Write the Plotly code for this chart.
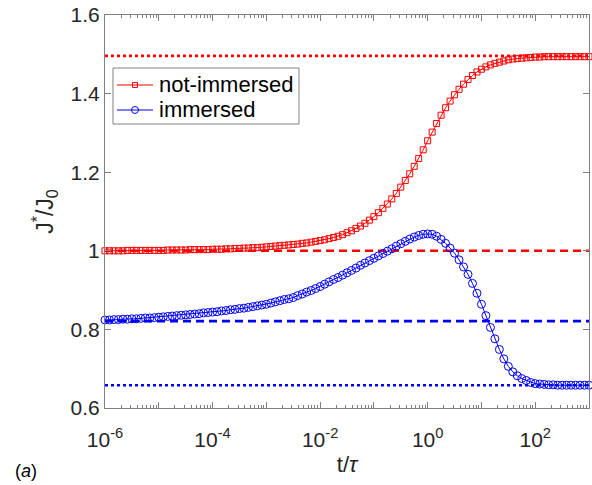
import numpy as np
import plotly.graph_objects as go

# sample times t/tau: 12 points per decade from 1e-6 to 1e3
log_t = -6.0 + np.arange(109) / 12.0
t = 10.0 ** log_t

j_not_immersed = [
    1.000, 1.000, 1.000, 1.000, 1.000, 1.001, 1.001, 1.001, 1.001, 1.001, 1.001, 1.001,
    1.001, 1.001, 1.002, 1.002, 1.002, 1.002, 1.002, 1.003, 1.003, 1.003, 1.003, 1.003,
    1.004, 1.004, 1.004, 1.005, 1.005, 1.006, 1.006, 1.007, 1.007, 1.008, 1.008, 1.009,
    1.010, 1.011, 1.012, 1.013, 1.014, 1.015, 1.016, 1.017, 1.019, 1.020, 1.022, 1.024,
    1.026, 1.028, 1.031, 1.034, 1.037, 1.041, 1.046, 1.051, 1.057, 1.063, 1.070, 1.078,
    1.087, 1.097, 1.108, 1.119, 1.132, 1.146, 1.162, 1.179, 1.196, 1.215, 1.235, 1.257,
    1.280, 1.302, 1.324, 1.345, 1.364, 1.381, 1.397, 1.411, 1.424, 1.436, 1.446, 1.455,
    1.462, 1.468, 1.473, 1.477, 1.480, 1.483, 1.486, 1.488, 1.489, 1.490, 1.491, 1.492,
    1.493, 1.493, 1.494, 1.494, 1.494, 1.494, 1.494, 1.494, 1.494, 1.494, 1.494, 1.494,
    1.494,
]

j_immersed = [
    0.824, 0.824, 0.825, 0.825, 0.826, 0.826, 0.827, 0.827, 0.828, 0.829, 0.829, 0.830,
    0.831, 0.832, 0.833, 0.834, 0.835, 0.836, 0.837, 0.838, 0.839, 0.840, 0.842, 0.843,
    0.844, 0.845, 0.847, 0.848, 0.850, 0.851, 0.853, 0.854, 0.856, 0.858, 0.860, 0.862,
    0.864, 0.867, 0.870, 0.873, 0.876, 0.878, 0.881, 0.886, 0.890, 0.895, 0.899, 0.904,
    0.909, 0.915, 0.921, 0.927, 0.932, 0.938, 0.944, 0.950, 0.956, 0.963, 0.969, 0.975,
    0.981, 0.987, 0.993, 0.999, 1.005, 1.012, 1.018, 1.024, 1.030, 1.035, 1.039, 1.042,
    1.043, 1.042, 1.037, 1.029, 1.019, 1.007, 0.994, 0.977, 0.959, 0.940, 0.917, 0.892,
    0.864, 0.835, 0.805, 0.776, 0.749, 0.725, 0.706, 0.692, 0.682, 0.675, 0.670, 0.665,
    0.662, 0.661, 0.660, 0.659, 0.659, 0.658, 0.658, 0.658, 0.658, 0.658, 0.658, 0.658,
    0.658,
]

series_names = ["not-immersed", "immersed"]

# asymptotic reference levels
ref_not_immersed_long = 1.496
ref_not_immersed_short = 1.0
ref_immersed_short = 0.821
ref_immersed_long = 0.658

x_span = [1e-6, 1e3]
x_tick_exps = list(range(-6, 4))
y_ticks = [0.6, 0.8, 1.0, 1.2, 1.4, 1.6]
y_tick_text = ["0.6", "0.8", "1", "1.2", "1.4", "1.6"]

RED = "#ff0000"
BLUE = "#0000ff"
TXT = "#262626"
AXC = "#808080"
FONT = "Liberation Sans"

fig = go.Figure()

# horizontal asymptote / initial-value lines
for level, color, dash in [
    (ref_not_immersed_long, RED, "dot"),
    (ref_not_immersed_short, RED, "8px,5px"),
    (ref_immersed_short, BLUE, "8px,5px"),
    (ref_immersed_long, BLUE, "dot"),
]:
    fig.add_trace(go.Scatter(
        x=x_span, y=[level, level], mode="lines",
        line=dict(color=color, width=2.6, dash=dash),
        showlegend=False, hoverinfo="skip",
    ))

fig.add_trace(go.Scatter(
    x=t, y=j_not_immersed, mode="lines+markers", name=series_names[0],
    line=dict(color=RED, width=1),
    marker=dict(symbol="square-open", size=6, color=RED, line=dict(width=1, color=RED)),
    cliponaxis=False, showlegend=False,
))
fig.add_trace(go.Scatter(
    x=t, y=j_immersed, mode="lines+markers", name=series_names[1],
    line=dict(color=BLUE, width=1),
    marker=dict(symbol="circle-open", size=8, color=BLUE, line=dict(width=1, color=BLUE)),
    cliponaxis=False, showlegend=False,
))

x_tick_vals = [10.0 ** e for e in x_tick_exps]
x_tick_text = [f"10<sup>{e}</sup>" if e % 2 == 0 else "" for e in x_tick_exps]
minor_vals = [m * 10.0 ** e for e in range(-6, 3) for m in range(2, 10)]

fig.update_xaxes(
    type="log", range=[-6, 3],
    tickmode="array", tickvals=x_tick_vals, ticktext=x_tick_text,
    ticks="inside", ticklen=6, tickcolor=AXC, tickwidth=1,
    ticklabelstandoff=13,
    minor=dict(tickmode="array", tickvals=minor_vals, ticks="inside",
               ticklen=3, tickcolor=AXC, tickwidth=1, showgrid=False),
    showline=True, linecolor=AXC, linewidth=1, mirror="ticks",
    showgrid=False, zeroline=False,
    tickfont=dict(family=FONT, size=21, color=TXT),
    title=dict(text="t/<i>τ</i>", font=dict(family=FONT, size=22, color=TXT), standoff=6),
)
fig.update_yaxes(
    range=[0.6, 1.6],
    tickmode="array", tickvals=y_ticks, ticktext=y_tick_text,
    ticks="inside", ticklen=6, tickcolor=AXC, tickwidth=1,
    showline=True, linecolor=AXC, linewidth=1, mirror="ticks",
    showgrid=False, zeroline=False,
    tickfont=dict(family=FONT, size=21, color=TXT),
    title=dict(text="J<sup>*</sup>/J<sub>0</sub>", font=dict(family=FONT, size=23, color=TXT), standoff=10),
)

fig.add_annotation(
    text="(<i>a</i>)", xref="paper", yref="paper", x=-0.19, y=-0.16,
    xanchor="left", yanchor="middle", showarrow=False,
    font=dict(family=FONT, size=18, color="#000000"),
)

# compact boxed legend in the upper-left corner of the axes
leg_box = dict(x0=0.0165, x1=0.4008, y0=0.7226, y1=0.8651)
leg_rows = [0.8219, 0.7583]
leg_line_x = (0.0248, 0.0992)
leg_mark_x = 0.062
leg_text_x = 0.1074

fig.add_shape(type="rect", xref="paper", yref="paper", **leg_box,
              line=dict(color=AXC, width=1), fillcolor="white", layer="above")
for row_y, name, color, kind, half in [
    (leg_rows[0], series_names[0], RED, "rect", 2.5),
    (leg_rows[1], series_names[1], BLUE, "circle", 3.5),
]:
    fig.add_shape(type="line", xref="paper", yref="paper",
                  x0=leg_line_x[0], x1=leg_line_x[1], y0=row_y, y1=row_y,
                  line=dict(color=color, width=1), layer="above")
    fig.add_shape(type=kind, xref="paper", yref="paper",
                  xsizemode="pixel", ysizemode="pixel",
                  xanchor=leg_mark_x, yanchor=row_y,
                  x0=-half, x1=half, y0=-half, y1=half,
                  line=dict(color=color, width=1), fillcolor="rgba(0,0,0,0)",
                  layer="above")
    fig.add_annotation(text=name, xref="paper", yref="paper",
                       x=leg_text_x, y=row_y, xanchor="left", yanchor="middle",
                       showarrow=False,
                       font=dict(family=FONT, size=22, color="#000000"))

fig.update_layout(
    width=592, height=485,
    margin=dict(l=105, r=3, t=15, b=77, autoexpand=False),
    paper_bgcolor="white", plot_bgcolor="white",
    showlegend=False,
)

fig.write_html("out.html")
